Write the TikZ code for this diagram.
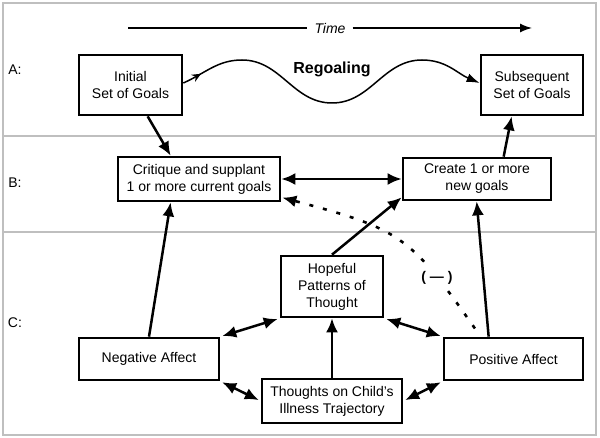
\documentclass[tikz,border=0pt]{standalone}
\usepackage{fontspec}
\setmainfont{Liberation Sans}
\usetikzlibrary{arrows.meta,decorations.markings}

\begin{document}
\begin{tikzpicture}[x=1pt,y=-1pt,font=\fontsize{14}{17}\selectfont]

\tikzstyle{goal} = [rectangle, draw=black, line width=2.7pt, align=center, inner sep=0pt]
\tikzstyle{push} = [line width=2.5pt, -{Latex[length=14pt,width=12pt]}]
\tikzstyle{twoway} = [line width=2.5pt, {Latex[length=14pt,width=12pt]}-{Latex[length=14pt,width=12pt]}]
\tikzstyle{dotline} = [line width=2.6pt, dash pattern=on 4pt off 10pt, -{Latex[length=14pt,width=12pt]}]
\tikzstyle{divider} = [draw=black!25, line width=1.2pt]
\tikzstyle{rowlabel} = []

\useasboundingbox (0,0) rectangle (600,438);

% frame and row dividers
\draw[divider] (3,3) rectangle (596,435);
\draw[divider] (3,136) -- (596,136);
\draw[divider] (3,232) -- (596,232);

\node[rowlabel] (rowa) at (15,70) {A:};
\node[rowlabel] (rowb) at (15,183) {B:};
\node[rowlabel] (rowc) at (15,323) {C:};

% time axis
\coordinate (tstart) at (128,28);
\coordinate (tend) at (532,28);
\node[inner sep=7pt, font=\fontsize{14}{17}\selectfont\itshape] (time) at (330,28) {Time};
\draw[line width=1.4pt, -{Latex[length=12pt,width=9pt]}] (tstart) -- (time) -- (tend);

% row A
\node[goal, minimum width=103pt, minimum height=60pt] (init) at (130.5,85) {Initial\\Set of Goals};
\node[goal, minimum width=102pt, minimum height=60pt] (subs) at (532,85) {Subsequent\\Set of Goals};
\node[font=\fontsize{16}{19}\selectfont\bfseries] (regoal) at (332,69) {Regoaling};

\draw[line width=1.5pt, -{Latex[length=13pt,width=9pt]},
      decoration={markings, mark=at position 0.06 with {\arrow{Stealth[length=9pt,width=8pt,inset=3pt]}}},
      postaction={decorate}]
  ([yshift=2pt]init.east) to[out=24,in=180] (242,60) to[out=0,in=180] (332,103)
  to[out=0,in=180] (422,60) to[out=0,in=157] ([yshift=2pt]subs.west);

% row B
\node[goal, minimum width=162pt, minimum height=44pt] (crit) at (199,179) {Critique and supplant\\1 or more current goals};
\node[goal, minimum width=148pt, minimum height=42pt] (create) at (477,179) {Create 1 or more\\new goals};

% row C
\node[goal, minimum width=102pt, minimum height=61pt] (hope) at (332,286.5) {Hopeful\\Patterns of\\Thought};
\node[goal, minimum width=140pt, minimum height=42pt] (neg) at (149,359) {Negative Affect};
\node[goal, minimum width=139pt, minimum height=42pt] (pos) at (513.5,359) {Positive Affect};
\node[goal, minimum width=140pt, minimum height=44pt] (thought) at (332,401) {Thoughts on Child's\\Illness Trajectory};

\draw[push] ([xshift=70pt]init.south west) -- ([xshift=54pt]crit.north west);
\draw[push] ([xshift=102pt]create.north west) -- ([xshift=32pt]subs.south west);
\draw[twoway] (crit.east) -- (create.west);

\draw[push] (neg.north) -- ([xshift=54pt]crit.south west);
\draw[push] (hope.north) -- ([yshift=4pt]create.south west);
\draw[push] ([xshift=46pt]pos.north west) -- ([xshift=75pt]create.south west);
\draw[dotline, shorten <=10pt, shorten >=1pt] ([xshift=38pt]pos.north west)
  to[out=125,in=-15,looseness=1.3] ([yshift=5pt]crit.south east);
\node[fill=white, inner sep=5pt, font=\fontsize{14}{17}\selectfont\bfseries] (minus) at (437,278) {( --- )};

\draw[twoway, shorten <=2pt, shorten >=2pt] (neg.north east) -- (hope.south west);
\draw[twoway, shorten <=2pt, shorten >=2pt] (hope.south east) -- (pos.north west);
\draw[push] (thought.north) -- (hope.south);
\draw[twoway, shorten <=2pt, shorten >=2pt] (neg.south east) -- (thought.west);
\draw[twoway, shorten <=2pt, shorten >=2pt] (thought.east) -- (pos.south west);

\end{tikzpicture}
\end{document}
